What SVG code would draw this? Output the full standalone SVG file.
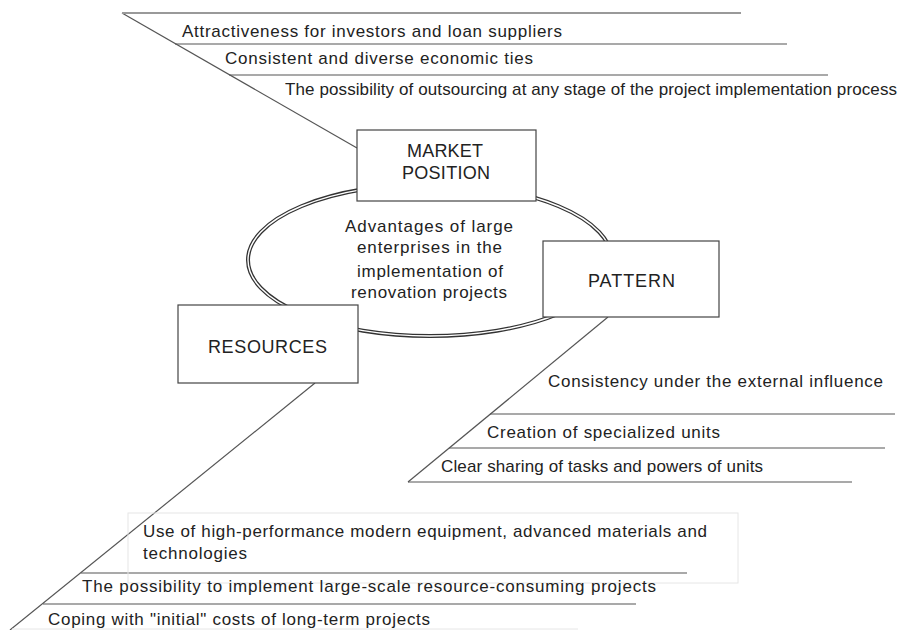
<svg xmlns="http://www.w3.org/2000/svg" width="906" height="630" viewBox="0 0 906 630">
<style>
text{font-family:"Liberation Sans",Arial,sans-serif;font-size:17px;fill:#222}
.box{fill:#fff;stroke:#444;stroke-width:1.2}
.ln{stroke:#555;stroke-width:1.2;fill:none}
.lt{stroke:#999;stroke-width:1.8;fill:none}
.faint{fill:none;stroke:#e6e6e6;stroke-width:1}
.lbl{font-size:18px}
</style>
<rect width="906" height="630" fill="#fff"/>
<g id="connectors">
<line class="ln" x1="122" y1="13" x2="357" y2="148"/>
<line class="lt" x1="122" y1="13" x2="741" y2="13"/>
<line class="ln" x1="175" y1="44" x2="787" y2="44"/>
<line class="ln" x1="229" y1="75" x2="828" y2="75"/>
<line class="ln" x1="608" y1="317" x2="408" y2="482"/>
<line class="ln" x1="490" y1="414" x2="895" y2="414"/>
<line class="ln" x1="449" y1="448" x2="885" y2="448"/>
<line class="ln" x1="408" y1="482" x2="852" y2="482"/>
<line class="ln" x1="315" y1="383" x2="10" y2="630"/>
<line class="ln" x1="81" y1="573" x2="687" y2="573"/>
<line class="ln" x1="43" y1="604" x2="636" y2="604"/>
<line class="faint" x1="12" y1="629" x2="578" y2="629"/>
</g>
<g id="node-center">
<ellipse cx="430" cy="260" rx="182" ry="76" fill="#fff" stroke="#333" stroke-width="4"/>
<ellipse cx="430" cy="260" rx="182" ry="76" fill="none" stroke="#fff" stroke-width="1.4"/>
<text x="345" y="232" textLength="168" lengthAdjust="spacing">Advantages of large</text>
<text x="357" y="253" textLength="145" lengthAdjust="spacing">enterprises in the</text>
<text x="357" y="277" textLength="146" lengthAdjust="spacing">implementation of</text>
<text x="351" y="298" textLength="156" lengthAdjust="spacing">renovation projects</text>
</g>
<g id="node-market">
<rect class="box" x="357" y="130" width="179" height="71"/>
<text class="lbl" x="407" y="157" textLength="76" lengthAdjust="spacing">MARKET</text>
<text class="lbl" x="402" y="179" textLength="88" lengthAdjust="spacing">POSITION</text>
</g>
<g id="node-pattern">
<rect class="box" x="543" y="241" width="176" height="76"/>
<text class="lbl" x="588" y="287" textLength="87" lengthAdjust="spacing">PATTERN</text>
</g>
<g id="node-resources">
<rect class="box" x="178" y="305" width="180" height="78"/>
<text class="lbl" x="208" y="353" textLength="119" lengthAdjust="spacing">RESOURCES</text>
</g>
<g id="market-items">
<text x="182" y="37" textLength="380" lengthAdjust="spacing">Attractiveness for investors and loan suppliers</text>
<text x="225" y="64" textLength="308" lengthAdjust="spacing">Consistent and diverse economic ties</text>
<text x="285" y="95" textLength="612" lengthAdjust="spacing">The possibility of outsourcing at any stage of the project implementation process</text>
</g>
<g id="pattern-items">
<text x="548" y="387" textLength="335" lengthAdjust="spacing">Consistency under the external influence</text>
<text x="487" y="438" textLength="233" lengthAdjust="spacing">Creation of specialized units</text>
<text x="441" y="472" textLength="322" lengthAdjust="spacing">Clear sharing of tasks and powers of units</text>
</g>
<g id="resources-items">
<rect class="faint" x="128" y="513" width="610" height="70"/>
<text x="143" y="537" textLength="564" lengthAdjust="spacing">Use of high-performance modern equipment, advanced materials and</text>
<text x="143" y="559" textLength="104" lengthAdjust="spacing">technologies</text>
<text x="82" y="592" textLength="574" lengthAdjust="spacing">The possibility to implement large-scale resource-consuming projects</text>
<text x="48" y="625" textLength="382" lengthAdjust="spacing">Coping with "initial" costs of long-term projects</text>
</g>
</svg>
